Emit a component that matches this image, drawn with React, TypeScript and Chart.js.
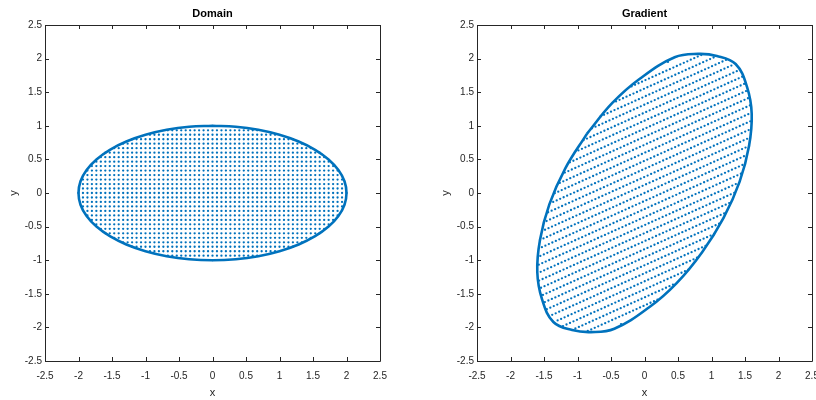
import React, { useEffect, useRef } from "react";
import { Chart, registerables } from "chart.js";

Chart.register(...registerables);

// ---- data ----
const tickValues = [-2.5, -2, -1.5, -1, -0.5, 0, 0.5, 1, 1.5, 2, 2.5];
const tickLabels = ["-2.5", "-2", "-1.5", "-1", "-0.5", "0", "0.5", "1", "1.5", "2", "2.5"];

// grid spacing of the sampled domain, and how many points each row holds on each side of x = 0
const gridStep = 1 / 15;
const rowHalfCounts = [30, 29, 29, 29, 28, 28, 27, 26, 25, 24, 22, 20, 18, 14, 10, 0]; // |row| = 0..15

// gradient (linear map) coefficients
const gradRowX = [0.78, 0.35];
const gradRowY = [0.35, 1.95];

// domain boundary (ellipse) points, starting at the top
const domainBoundaryX = [0, -0.347, -0.684, -1, -1.286, -1.532, -1.732, -1.879, -1.97, -2, -1.97, -1.879, -1.732, -1.532, -1.286, -1, -0.684, -0.347, 0, 0.347, 0.684, 1, 1.286, 1.532, 1.732, 1.879, 1.97, 2, 1.97, 1.879, 1.732, 1.532, 1.286, 1, 0.684, 0.347, 0];
const domainBoundaryY = [1, 0.985, 0.94, 0.866, 0.766, 0.643, 0.5, 0.342, 0.174, 0, -0.174, -0.342, -0.5, -0.643, -0.766, -0.866, -0.94, -0.985, -1, -0.985, -0.94, -0.866, -0.766, -0.643, -0.5, -0.342, -0.174, 0, 0.174, 0.342, 0.5, 0.643, 0.766, 0.866, 0.94, 0.985, 1];

// gradient boundary points, starting on the upper-left side
const gradBoundaryX = [-0.86, -1.18, -1.42, -1.56, -1.6, -1.53, -1.36, -1.08, -0.8, -0.45, 0.07, 0.48, 0.86, 1.18, 1.42, 1.56, 1.6, 1.53, 1.36, 1.08, 0.8, 0.45, -0.07, -0.48, -0.86];
const gradBoundaryY = [0.88, 0.37, -0.17, -0.7, -1.18, -1.58, -1.92, -2.04, -2.07, -2.02, -1.7, -1.34, -0.88, -0.37, 0.17, 0.7, 1.18, 1.58, 1.92, 2.04, 2.07, 2.02, 1.7, 1.34, 0.88];

// ---- helpers ----
type P = { x: number; y: number };

function domainPoints(): P[] {
  const pts: P[] = [];
  const n = rowHalfCounts.length - 1;
  for (let k = -n; k <= n; k++) {
    const h = rowHalfCounts[Math.abs(k)];
    for (let j = -h; j <= h; j++) pts.push({ x: j * gridStep, y: k * gridStep });
  }
  return pts;
}

function gradientPoints(): P[] {
  return domainPoints().map((p) => ({
    x: gradRowX[0] * p.x + gradRowX[1] * p.y,
    y: gradRowY[0] * p.x + gradRowY[1] * p.y,
  }));
}

const zip = (xs: number[], ys: number[]): P[] => xs.map((x, i) => ({ x, y: ys[i] }));

const FONT = "'Liberation Sans', Arial, Helvetica, sans-serif";
const AXIS = "#262626";
const BLUE = "#0072BD";

const framePlugin = {
  id: "frame",
  afterDraw(chart: any) {
    const { ctx, chartArea } = chart;
    const { left, right, top, bottom } = chartArea;
    const xs = chart.scales.x;
    const ys = chart.scales.y;
    const tl = 4;
    ctx.save();
    ctx.strokeStyle = AXIS;
    ctx.lineWidth = 1;
    ctx.beginPath();
    ctx.rect(Math.round(left) + 0.5, Math.round(top) + 0.5, Math.round(right - left), Math.round(bottom - top));
    for (const v of tickValues) {
      const px = Math.round(xs.getPixelForValue(v)) + 0.5;
      ctx.moveTo(px, bottom);
      ctx.lineTo(px, bottom - tl);
      ctx.moveTo(px, top);
      ctx.lineTo(px, top + tl);
      const py = Math.round(ys.getPixelForValue(v)) + 0.5;
      ctx.moveTo(left, py);
      ctx.lineTo(left + tl, py);
      ctx.moveTo(right, py);
      ctx.lineTo(right - tl, py);
    }
    ctx.stroke();
    ctx.restore();
  },
};

function makeScale(axis: "x" | "y") {
  const base: any = {
    type: "linear",
    min: -2.5,
    max: 2.5,
    grid: { display: false, drawTicks: false },
    border: { display: false },
    afterBuildTicks: (s: any) => {
      s.ticks = tickValues.map((v) => ({ value: v }));
    },
    ticks: {
      autoSkip: false,
      maxRotation: 0,
      color: AXIS,
      font: { family: FONT, size: 10 },
      callback: (v: number) => {
        const i = tickValues.findIndex((t) => Math.abs(t - v) < 1e-9);
        return i >= 0 ? tickLabels[i] : "";
      },
    },
    title: { display: true, text: axis, color: AXIS, font: { family: FONT, size: 11 } },
  };
  if (axis === "x") {
    base.position = "bottom";
    base.ticks.padding = 9;
    base.title.padding = { top: 0, bottom: 0 };
    base.afterFit = (s: any) => {
      s.height = 39;
      s.paddingLeft = 0;
      s.paddingRight = 0;
    };
  } else {
    base.position = "left";
    base.ticks.padding = 3;
    base.title.padding = { top: 7.4, bottom: 0 };
    base.afterFit = (s: any) => {
      s.width = 45;
      s.paddingTop = 0;
      s.paddingBottom = 0;
    };
  }
  return base;
}

function Panel(props: { title: string; dots: P[]; boundary: P[]; padLeft: number; padRight: number }) {
  const ref = useRef<HTMLCanvasElement>(null);
  useEffect(() => {
    const chart = new Chart(ref.current as HTMLCanvasElement, {
      type: "scatter",
      data: {
        datasets: [
          {
            data: props.boundary,
            showLine: true,
            pointRadius: 0,
            borderColor: BLUE,
            borderWidth: 2.6,
            tension: 0.4,
            order: 1,
          } as any,
          {
            data: props.dots,
            pointRadius: 1.15,
            pointBorderWidth: 0,
            backgroundColor: BLUE,
            borderColor: BLUE,
            order: 2,
          } as any,
        ],
      },
      options: {
        responsive: false,
        animation: false,
        events: [],
        layout: { padding: { left: props.padLeft, right: props.padRight, top: 0, bottom: 0 } },
        plugins: {
          legend: { display: false },
          tooltip: { enabled: false },
          title: {
            display: true,
            text: props.title,
            fullSize: false,
            color: "#000",
            font: { family: FONT, size: 11, weight: "bold", lineHeight: 1.2 },
            padding: { top: 7.4, bottom: 4.4 },
          },
        },
        scales: { x: makeScale("x"), y: makeScale("y") },
      } as any,
      plugins: [framePlugin],
    });
    return () => chart.destroy();
  }, []);
  return <canvas ref={ref} width={408} height={400} style={{ width: 408, height: 400, display: "block" }} />;
}

export default function App() {
  return (
    <div style={{ position: "fixed", left: 0, top: 0, width: 816, height: 400, display: "flex", background: "#fff" }}>
      <Panel title="Domain" dots={domainPoints()} boundary={zip(domainBoundaryX, domainBoundaryY)} padLeft={0} padRight={28} />
      <Panel title="Gradient" dots={gradientPoints()} boundary={zip(gradBoundaryX, gradBoundaryY)} padLeft={24} padRight={4} />
    </div>
  );
}
